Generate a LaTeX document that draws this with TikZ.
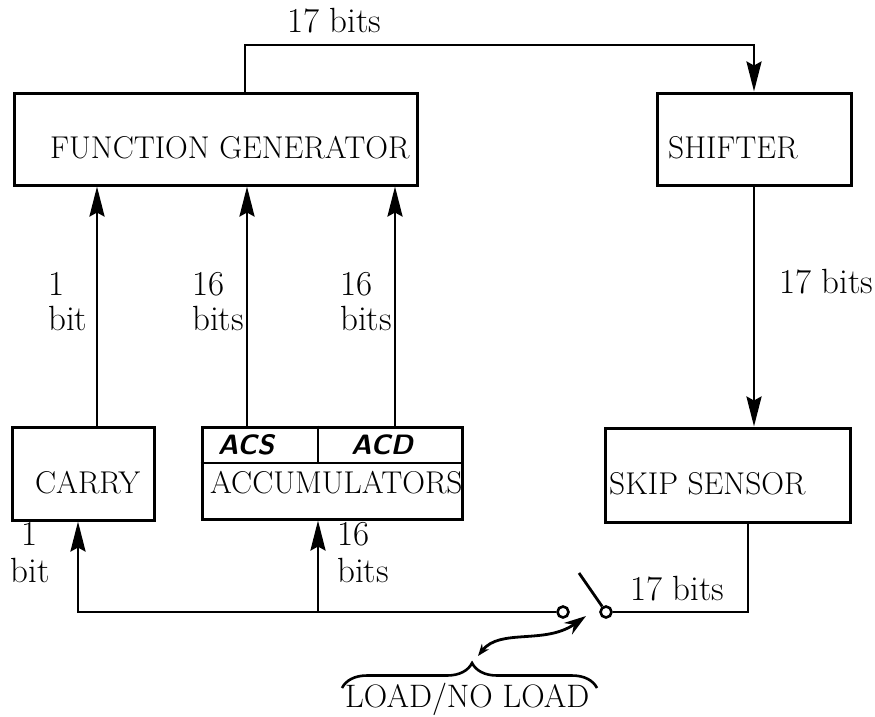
\documentclass[tikz,border=0pt]{standalone}
\usepackage{fontspec}
\usetikzlibrary{arrows.meta,decorations.pathreplacing}
\begin{document}
\begin{tikzpicture}[x=1pt,y=-1pt,
  box/.style={draw, line width=3pt, inner sep=0pt},
  txt/.style={font=\fontsize{31.5}{36}\selectfont, inner sep=0pt, anchor=base west},
  lbl/.style={font=\fontsize{35}{40}\selectfont, inner sep=0pt, anchor=base west},
  hand/.style={font=\sffamily\bfseries\itshape\fontsize{28}{32}\selectfont, inner sep=0pt},
  wire/.style={line width=2.8pt},
  arr/.style={wire, -{Stealth[length=30pt,width=15pt,inset=4pt]}},
  contact/.style={draw, circle, line width=2.6pt, minimum size=11pt, inner sep=0pt},
]
\useasboundingbox (0,0) rectangle (875,716);

% boxes
\node[box, minimum width=403pt, minimum height=92pt] (fg) at (215.5,139) {};
\node[txt] (fgt) at (50,158) {FUNCTION GENERATOR};
\node[box, minimum width=194pt, minimum height=92pt] (sh) at (754,139) {};
\node[txt] (sht) at (668,158) {SHIFTER};
\node[box, minimum width=245pt, minimum height=94pt] (ss) at (727.5,475) {};
\node[txt] (sst) at (609,494) {SKIP SENSOR};
\node[box, minimum width=142pt, minimum height=93pt] (ca) at (83,473.5) {};
\node[txt] (cat) at (35,493) {CARRY};
\node[box, minimum width=260pt, minimum height=92pt] (ac) at (332,473) {};
\node[txt] (act) at (210,493) {ACCUMULATORS};
\coordinate (dv) at (318,463);
\draw[wire] (ac.west |- dv) -- (ac.east |- dv);
\draw[wire] (ac.north -| dv) -- (dv);
\node[hand] (acs) at (246,445) {ACS};
\node[hand] (acd) at (382,445) {ACD};

% top loop
\coordinate (tl) at (245,45);
\draw[arr] (fg.north -| tl) -- (tl) -| (sh.north);
\node[lbl] (l1) at (287,32) {17 bits};
\draw[arr] (sh.south) -- (sh.south |- ss.north);
\node[lbl] (l2) at (779,293) {17 bits};

% up arrows
\coordinate (u1) at (97,0);
\coordinate (u2) at (247,0);
\coordinate (u3) at (395,0);
\draw[arr] (ca.north -| u1) -- (fg.south -| u1);
\draw[arr] (ac.north -| u2) -- (fg.south -| u2);
\draw[arr] (ac.north -| u3) -- (fg.south -| u3);
\node[lbl] (l3a) at (48,295) {1};
\node[lbl] (l3b) at (48,330) {bit};
\node[lbl] (l4a) at (192,295) {16};
\node[lbl] (l4b) at (192,330) {bits};
\node[lbl] (l5a) at (340,295) {16};
\node[lbl] (l5b) at (340,330) {bits};

% bottom loop with switch
\coordinate (sr) at (748,612);
\node[contact] (swR) at (606,612) {};
\node[contact] (swL) at (563,612) {};
\coordinate (lev) at (579,573);
\draw[wire] (ss.south -| sr) -- (sr) -- (swR.east);
\draw[wire] (swR) -- (lev);
\coordinate (bl) at (78,612);
\coordinate (bm) at (318,612);
\draw[arr] (swL.west) -- (bl) -- (ca.south -| bl);
\draw[arr] (bm) -- (ac.south -| bm);
\node[lbl] (l6) at (630,600) {17 bits};
\node[lbl, anchor=base] (l7a) at (30,545) {1};
\node[lbl, anchor=base] (l7b) at (30,582) {bit};
\node[lbl] (l8a) at (337,545) {16};
\node[lbl] (l8b) at (337,582) {bits};

% load / no load
\draw[line width=2.6pt, decorate, decoration={brace, amplitude=25pt, aspect=0.51}] (342,688) -- (597,688);
\coordinate (bt) at (478,656);
\coordinate (sa) at (586,616);
\draw[wire, {Stealth[length=12pt,width=9pt]}-{Stealth[length=22pt,width=14pt]}] (bt) .. controls (500,628) and (545,645) .. (sa);
\node[txt, font=\fontsize{32.5}{37}\selectfont] (ld) at (345,707) {LOAD/NO LOAD};
\end{tikzpicture}
\end{document}
